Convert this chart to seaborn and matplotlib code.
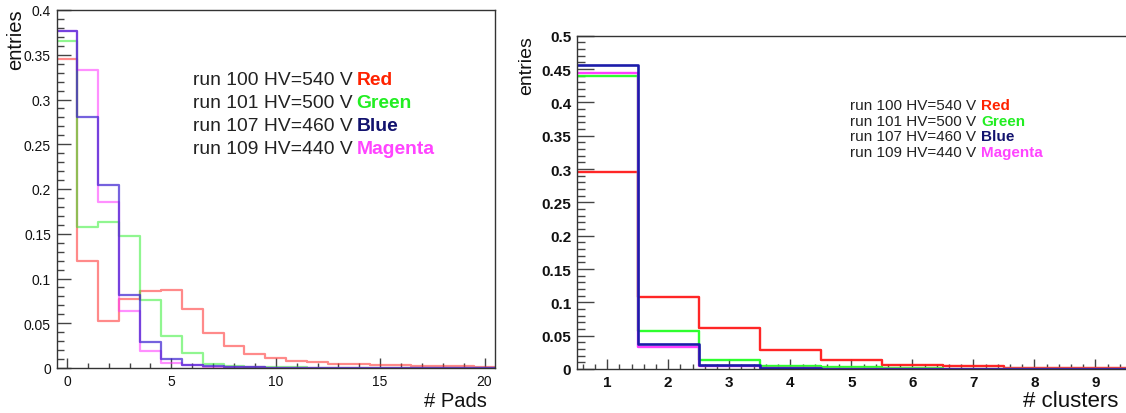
import numpy as np
import pandas as pd
import matplotlib
matplotlib.use("Agg")
import matplotlib.pyplot as plt
import matplotlib.text as mtext
import seaborn as sns
from matplotlib.ticker import MultipleLocator, FuncFormatter

# ---------------- data ----------------
run_labels = ["run 100 HV=540 V", "run 101 HV=500 V", "run 107 HV=460 V", "run 109 HV=440 V"]
color_words = ["Red", "Green", "Blue", "Magenta"]

# left panel: # Pads (bins centred on 0..20)
pads = list(range(0, 21))
pads_red = [0.345, 0.120, 0.052, 0.077, 0.086, 0.0875, 0.066, 0.0395, 0.025, 0.0155, 0.0112,
            0.0082, 0.0067, 0.0048, 0.0040, 0.0034, 0.0030, 0.0026, 0.0022, 0.0019, 0.0015]
pads_green = [0.365, 0.158, 0.163, 0.147, 0.076, 0.036, 0.017, 0.0045, 0.0026, 0.0015, 0.0010,
              0.0007, 0.0005, 0.0004, 0.0003, 0.0002, 0.0002, 0.0001, 0.0001, 0.0001, 0.0001]
pads_blue = [0.377, 0.280, 0.204, 0.082, 0.0287, 0.010, 0.0035, 0.002, 0.001, 0.0006, 0.0004,
             0.0003, 0.0002, 0.0001, 0.0001, 0.0001, 0.0, 0.0, 0.0, 0.0, 0.0]
pads_magenta = [0.376, 0.333, 0.186, 0.064, 0.0194, 0.0056, 0.003, 0.0015, 0.001, 0.0006, 0.0004,
                0.0003, 0.0002, 0.0001, 0.0001, 0.0, 0.0, 0.0, 0.0, 0.0, 0.0]

# right panel: # clusters (bins centred on 1..9)
clusters = list(range(1, 10))
cl_red = [0.295, 0.1085, 0.062, 0.0285, 0.0135, 0.0065, 0.004, 0.002, 0.001]
cl_green = [0.439, 0.057, 0.014, 0.005, 0.0025, 0.001, 0.0005, 0.0002, 0.0001]
cl_blue = [0.456, 0.037, 0.006, 0.002, 0.0005, 0.0002, 0.0001, 0.0, 0.0]
cl_magenta = [0.444, 0.033, 0.005, 0.0015, 0.0004, 0.0002, 0.0001, 0.0, 0.0]

# ---------------- style ----------------
sns.set_theme(style="white")
plt.rcParams['font.family'] = ['Liberation Sans', 'DejaVu Sans']

W, H = 1126, 414
fig = plt.figure(figsize=(W / 100, H / 100), dpi=100)

def px_axes(x0, y0, x1, y1):
    return fig.add_axes([x0 / W, 1 - y1 / H, (x1 - x0) / W, (y1 - y0) / H])

axL = px_axes(56.5, 11, 495, 369)
axR = px_axes(576.7, 36.7, 1126, 370)

def step(ax, centers, values, color, lw, alpha):
    df = pd.DataFrame({"x": np.asarray(centers, dtype=float),
                       "w": np.asarray(values, dtype=float)})
    edges = np.append(df["x"].to_numpy() - 0.5, df["x"].iloc[-1] + 0.5)
    sns.histplot(data=df, x="x", weights="w", bins=list(edges),
                 element="step", fill=False, color=color, linewidth=lw, alpha=alpha, ax=ax)

# left panel (faded colours)
step(axL, pads, pads_red, "#ff2a2a", 1.6, 0.55)
step(axL, pads, pads_green, "#22ee22", 1.6, 0.5)
step(axL, pads, pads_magenta, "#ff33ff", 1.6, 0.55)
step(axL, pads, pads_blue, "#3a20d0", 1.6, 0.7)

# right panel (full colours)
step(axR, clusters, cl_red, "#ff1a1a", 1.7, 0.95)
step(axR, clusters, cl_green, "#22ff22", 1.7, 0.95)
step(axR, clusters, cl_magenta, "#ff33ff", 1.7, 0.95)
step(axR, clusters, cl_blue, "#1c1caa", 1.9, 1.0)

fmt = FuncFormatter(lambda v, p: f"{v:g}")

# left axes formatting
axL.set_xlim(-0.5, 20.5)
axL.set_ylim(0, 0.4)
axL.xaxis.set_major_locator(MultipleLocator(5))
axL.xaxis.set_minor_locator(MultipleLocator(1))
axL.yaxis.set_major_locator(MultipleLocator(0.05))
axL.yaxis.set_minor_locator(MultipleLocator(0.01))
axL.yaxis.set_major_formatter(fmt)
axL.xaxis.set_major_formatter(fmt)
axL.tick_params(axis='y', which='major', direction='in', length=10, width=1, color='#444',
                labelsize=10, pad=4, left=True, right=False, labelcolor='#111')
axL.tick_params(axis='y', which='minor', direction='in', length=5, width=1, color='#444',
                left=True, right=False)
axL.tick_params(axis='x', which='major', direction='in', length=7.2, width=1, color='#444',
                labelsize=10, pad=4, bottom=True, top=False, labelcolor='#111')
axL.tick_params(axis='x', which='minor', direction='in', length=3.6, width=1, color='#444',
                bottom=True, top=False)
for s in axL.spines.values():
    s.set_visible(True)
    s.set_color('#333')
    s.set_linewidth(1.0)
axL.set_xlabel("")
axL.set_ylabel("")

# right axes formatting
axR.set_xlim(0.5, 9.5)
axR.set_ylim(0, 0.5)
axR.xaxis.set_major_locator(MultipleLocator(1))
axR.xaxis.set_minor_locator(MultipleLocator(0.2))
axR.yaxis.set_major_locator(MultipleLocator(0.05))
axR.yaxis.set_minor_locator(MultipleLocator(0.01))
axR.yaxis.set_major_formatter(fmt)
axR.xaxis.set_major_formatter(fmt)
axR.tick_params(axis='y', which='major', direction='in', length=12, width=1, color='#444',
                labelsize=11, pad=4, left=True, right=False, labelcolor='#111')
axR.tick_params(axis='y', which='minor', direction='in', length=5.5, width=1, color='#444',
                left=True, right=False)
axR.tick_params(axis='x', which='major', direction='in', length=7.2, width=1, color='#444',
                labelsize=11, pad=4, bottom=True, top=False, labelcolor='#111')
axR.tick_params(axis='x', which='minor', direction='in', length=3.6, width=1, color='#444',
                bottom=True, top=False)
for lab in axR.get_xticklabels() + axR.get_yticklabels():
    lab.set_fontweight('bold')
for name, s in axR.spines.items():
    s.set_visible(name != 'right')
    s.set_color('#333')
    s.set_linewidth(1.0)
axR.set_xlabel("")
axR.set_ylabel("")

# axis titles (ROOT style placement)
fig.text(15.5 / W, 1 - 40 / H, "entries", rotation=90, ha='center', va='center',
         fontsize=14.5, color='#111')
fig.text(487 / W, 1 - 402 / H, "# Pads", ha='right', va='center', fontsize=14.5, color='#111')
fig.text(527 / W, 1 - 66 / H, "entries", rotation=90, ha='center', va='center',
         fontsize=14, color='#111')
fig.text(1118 / W, 1 - 402 / H, "# clusters", ha='right', va='center', fontsize=16, color='#111')

# legends as text
word_colors = ["#ff2200", "#22ee22", "#12126e", "#ff44ff"]

def legend(x_px, baselines_px, size, gap):
    for lab, word, col, yb in zip(run_labels, color_words, word_colors, baselines_px):
        t = fig.text(x_px / W, 1 - yb / H, lab, ha='left', va='baseline',
                     fontsize=size, color='#222')
        fig.add_artist(mtext.Annotation(
            word, xy=(1, 0), xycoords=t, xytext=(gap, 0), textcoords='offset points',
            ha='left', va='bottom', fontsize=size, fontweight='bold', color=col))

legend(192.7, [85.3, 108.2, 131.2, 154.3], 13.9, 3.0)
legend(850.0, [110.0, 125.6, 141.0, 156.6], 11.0, 3.5)

fig.savefig("out.png", dpi=100)
